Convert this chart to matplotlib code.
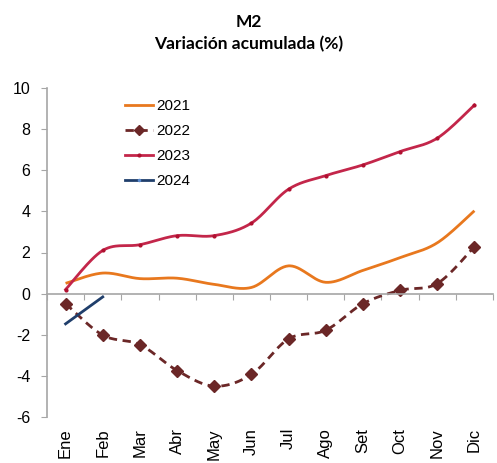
import numpy as np
import matplotlib
matplotlib.use("Agg")
import matplotlib.pyplot as plt
from matplotlib.lines import Line2D

months = ["Ene", "Feb", "Mar", "Abr", "May", "Jun", "Jul", "Ago", "Set", "Oct", "Nov", "Dic"]
s2021 = [0.5, 1.0, 0.73, 0.75, 0.45, 0.3, 1.35, 0.55, 1.13, 1.75, 2.47, 4.03]
s2022 = [-0.49, -2.02, -2.48, -3.74, -4.5, -3.93, -2.2, -1.78, -0.49, 0.16, 0.49, 2.28]
s2023 = [0.2, 2.1, 2.38, 2.82, 2.82, 3.43, 5.08, 5.74, 6.26, 6.91, 7.56, 9.17]
s2024 = [-1.47, -0.16]
yticks = [-6, -4, -2, 0, 2, 4, 6, 8, 10]

c2021 = "#E8781E"
c2022 = "#6B2727"
c2023 = "#C3264A"
c2024 = "#1F3E6B"


def smooth(y, n=30):
    y = np.asarray(y, float)
    x = np.arange(len(y), dtype=float)
    if len(y) < 3:
        return x, y
    px = np.concatenate([[x[0]], x, [x[-1]]])
    py = np.concatenate([[y[0]], y, [y[-1]]])
    xs, ys = [], []
    t = np.linspace(0, 1, n)
    for i in range(1, len(px) - 2):
        p0, p1, p2, p3 = px[i - 1], px[i], px[i + 1], px[i + 2]
        q0, q1, q2, q3 = py[i - 1], py[i], py[i + 1], py[i + 2]
        def cr(a0, a1, a2, a3):
            return 0.5 * ((2 * a1) + (-a0 + a2) * t + (2 * a0 - 5 * a1 + 4 * a2 - a3) * t ** 2
                          + (-a0 + 3 * a1 - 3 * a2 + a3) * t ** 3)
        xs.append(cr(p0, p1, p2, p3))
        ys.append(cr(q0, q1, q2, q3))
    return np.concatenate(xs), np.concatenate(ys)


fig = plt.figure(figsize=(4.97, 4.63), dpi=100)
ax = fig.add_axes([47 / 497, 1 - 417 / 463, 446 / 497, 329 / 463])

x = np.arange(len(months))
sx, sy = smooth(s2021)
ax.plot(sx, sy, color=c2021, lw=2, solid_capstyle="butt")
sx, sy = smooth(s2022)
ax.plot(sx, sy, color=c2022, lw=2, ls=(0, (3, 2)))
ax.plot(x, s2022, ls="none", marker="D", ms=6, color=c2022)
sx, sy = smooth(s2023)
ax.plot(sx, sy, color=c2023, lw=2)
ax.plot(x, s2023, ls="none", marker="o", ms=2, color="#B01030")
ax.plot(np.arange(len(s2024)), s2024, color=c2024, lw=2)

ax.set_xlim(-0.5, 11.5)
ax.set_ylim(-6, 10)
ax.set_yticks(yticks)
ax.set_yticklabels([str(v) for v in yticks], fontsize=11.5, family="Liberation Sans")
ax.tick_params(axis="y", direction="out", length=4, color="#A6A6A6", pad=8)

for s in ["top", "right"]:
    ax.spines[s].set_visible(False)
ax.spines["left"].set_color("#A6A6A6")
ax.spines["left"].set_linewidth(1.2)
ax.spines["bottom"].set_position(("data", 0))
ax.spines["bottom"].set_color("#A6A6A6")
ax.spines["bottom"].set_linewidth(1.2)
ax.set_xticks(np.arange(-0.5, 12, 1))
ax.set_xticklabels([])
ax.tick_params(axis="x", direction="out", length=4, color="#A6A6A6")

sec = ax.secondary_xaxis("bottom")
sec.set_xticks(x)
sec.set_xticklabels(months, rotation=90, fontsize=12, family="Liberation Sans")
sec.tick_params(length=0, pad=8)
sec.spines["bottom"].set_visible(False)

handles = [
    Line2D([], [], color=c2021, lw=2),
    Line2D([], [], color=c2022, lw=2, ls=(0, (3, 2)), marker="D", ms=5),
    Line2D([], [], color=c2023, lw=2, marker="o", ms=2, mfc="#B01030", mec="#B01030"),
    Line2D([], [], color=c2024, lw=2, marker="o", ms=1.5, mfc="#5B8BD0", mec="#5B8BD0"),
]
ax.legend(handles, ["2021", "2022", "2023", "2024"], loc="upper left",
          bbox_to_anchor=(0.175, 0.967), frameon=False, handlelength=1.85,
          handletextpad=0.2, labelspacing=0.73, borderpad=0, borderaxespad=0,
          prop={"family": "Liberation Sans", "size": 11})

fig.text(0.5, 1 - 22 / 463, "M2", ha="center", va="center", fontsize=12.5,
         fontweight="bold", family="Lato")
fig.text(0.5, 1 - 44 / 463, "Variación acumulada (%)", ha="center", va="center",
         fontsize=12.5, fontweight="bold", family="Lato")

fig.savefig("out.png", dpi=100)
